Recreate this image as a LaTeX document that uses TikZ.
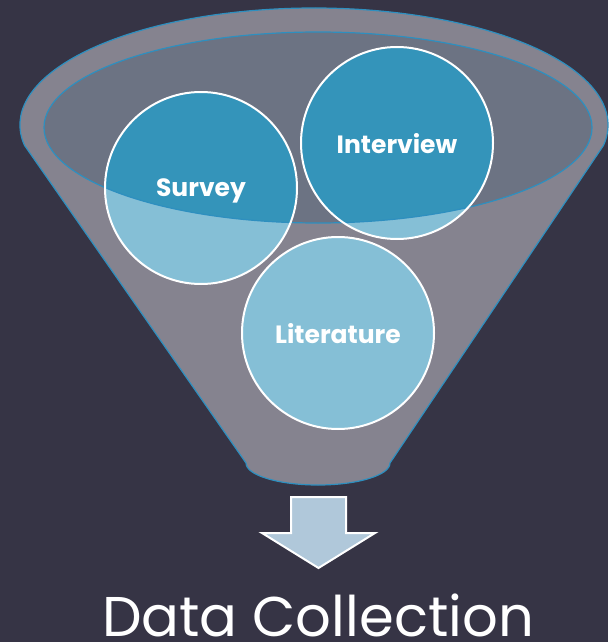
\documentclass[tikz,border=0pt]{standalone}
\usepackage{fontspec}
\setmainfont{Poppins}
\usetikzlibrary{positioning}

\definecolor{bgdark}{HTML}{363445}
\definecolor{funnelgray}{HTML}{85838F}
\definecolor{mouthgray}{HTML}{6C7383}
\definecolor{rimblue}{HTML}{2E8FBF}
\definecolor{bubbledark}{HTML}{3494BA}
\definecolor{bubblelight}{HTML}{85BFD6}
\definecolor{arrowblue}{HTML}{B0C8DA}

\begin{document}
\begin{tikzpicture}[x=1pt,y=-1pt,
    bubble/.style={circle,draw=white,line width=2pt,minimum size=192pt,inner sep=0pt,
                   text depth=0pt,text=white,font=\fontsize{25}{25}\selectfont\bfseries},
    rim/.style={draw=rimblue,line width=1.2pt}]
		% background and page size
		\fill[bgdark] (0,0) rectangle (608,642);
		\useasboundingbox (0,0) rectangle (608,642);

		% funnel body
		\path[fill=funnelgray,rim] (314,125) ++(170:294 and 117)
			arc[start angle=170,end angle=370,x radius=294,y radius=117]
			-- (390,463) arc[start angle=0,end angle=180,x radius=72,y radius=22] -- cycle;
		\fill[mouthgray] (318,127.5) ellipse[x radius=274,y radius=95.5];

		% bubbles, light below the rim, dark inside the mouth
		\foreach \c in {(201,188),(397,143),(338,333)}
			\fill[bubblelight] \c circle (96);
		\begin{scope}
			\clip (318,127.5) ellipse[x radius=274,y radius=95.5];
			\foreach \c in {(201,188),(397,143),(338,333)}
				\fill[bubbledark] \c circle (96);
		\end{scope}
		\draw[rim] (318,127.5) ellipse[x radius=274,y radius=95.5];

		\node[bubble] (survey) at (201,188) {Survey};
		\node[bubble] (interview) at (397,143) {Interview};
		\node[bubble] (literature) at (338,333) {Literature};

		% output arrow
		\draw[fill=arrowblue,draw=white,line width=2pt,line join=miter]
			(291,497) -- (346,497) -- (346,533) -- (375,533) -- (318.5,568)
			-- (262,533) -- (291,533) -- cycle;

		\node[anchor=base,text=white,inner sep=0pt,font=\fontsize{56}{56}\selectfont]
			(datacoll) at (318,636) {Data Collection};
\end{tikzpicture}
\end{document}
